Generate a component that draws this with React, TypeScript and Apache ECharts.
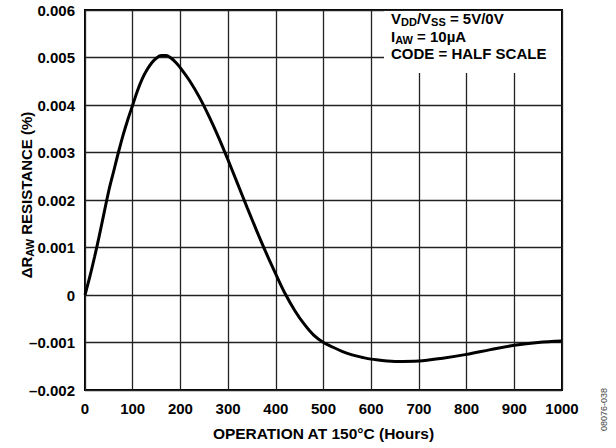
import React, { useEffect, useRef } from "react";
import * as echarts from "echarts";

const hours = [0, 10, 20, 30, 40, 50, 60, 70, 80, 90, 100, 110, 120, 130, 140, 150, 160, 170, 180, 190, 200, 220, 240, 260, 280, 300, 320, 340, 360, 380, 400, 420, 440, 460, 480, 500, 520, 540, 560, 580, 600, 650, 700, 750, 800, 850, 900, 950, 1000];
const deltaR = [0, 0.00038, 0.0008, 0.00125, 0.00173, 0.0022, 0.0026, 0.003, 0.00337, 0.0037, 0.004, 0.0043, 0.00455, 0.00474, 0.00489, 0.00499, 0.00504, 0.00504, 0.00499, 0.0049, 0.00478, 0.0045, 0.00416, 0.00376, 0.00332, 0.00284, 0.00234, 0.00184, 0.00135, 0.00088, 0.00044, 0.00002, -0.00033, -0.00062, -0.00085, -0.001, -0.0011, -0.00119, -0.00126, -0.00131, -0.00135, -0.0014, -0.00139, -0.00133, -0.00125, -0.00115, -0.00106, -0.001, -0.00097];

const xMin = 0, xMax = 1000, xStep = 100;
const yMin = -0.002, yMax = 0.006, yStep = 0.001;

const FONT = "'Liberation Sans', Arial, sans-serif";
const FS = 15;

export default function App() {
  const ref = useRef<HTMLDivElement>(null);
  useEffect(() => {
    const chart = echarts.init(ref.current!, null, { renderer: "svg" });
    const data = hours.map((h, i) => [h, deltaR[i]]);
    const main = { fontSize: FS, fontWeight: "bold", fontFamily: FONT, color: "#000", lineHeight: 16 };
    const sub = { fontSize: 11, fontWeight: "bold", fontFamily: FONT, color: "#000", lineHeight: 10, padding: [8, 0, 0, 0] };
    chart.setOption({
      animation: false,
      backgroundColor: "#fff",
      grid: { left: 85, right: 54, top: 10, bottom: 58, show: true, borderColor: "#000", borderWidth: 2, backgroundColor: "transparent", outerBoundsMode: "none", containLabel: false },
      xAxis: {
        type: "value",
        min: xMin,
        max: xMax,
        interval: xStep,
        axisLine: { show: false },
        axisTick: { show: false },
        splitLine: { show: true, lineStyle: { color: "#222", width: 1.3 } },
        axisLabel: { color: "#000", fontWeight: "bold", fontSize: FS, fontFamily: FONT, margin: 11, formatter: (v: number) => String(v) },
        name: "OPERATION AT 150°C (Hours)",
        nameLocation: "middle",
        nameGap: 35,
        nameMoveOverlap: false,
        nameTextStyle: { color: "#000", fontWeight: "bold", fontSize: 15.5, fontFamily: FONT },
      },
      yAxis: {
        type: "value",
        min: yMin,
        max: yMax,
        interval: yStep,
        axisLine: { show: false },
        axisTick: { show: false },
        splitLine: { show: true, lineStyle: { color: "#222", width: 1.3 } },
        axisLabel: {
          color: "#000",
          fontWeight: "bold",
          fontSize: FS,
          fontFamily: FONT,
          margin: 10,
          formatter: (v: number) => {
            const r = Math.round(v * 1000) / 1000;
            if (r === 0) return "0";
            return r < 0 ? "–" + Math.abs(r).toFixed(3) : r.toFixed(3);
          },
        },
      },
      series: [
        {
          type: "line",
          data,
          smooth: 0.35,
          showSymbol: false,
          lineStyle: { color: "#000", width: 3 },
          z: 5,
        },
      ],
      graphic: [
        { type: "rect", shape: { x: 384, y: 11, width: 177, height: 62 }, style: { fill: "#fff" }, z: 10 },
        {
          type: "text",
          x: 391,
          y: 10,
          z: 11,
          style: { text: "{a|V}{s|DD}{a|/V}{s|SS}{a| = 5V/0V}", rich: { a: main, s: sub } },
        },
        {
          type: "text",
          x: 391,
          y: 28,
          z: 11,
          style: { text: "{a|I}{s|AW}{a| = 10µA}", rich: { a: main, s: sub } },
        },
        {
          type: "text",
          x: 391,
          y: 46,
          z: 11,
          style: { text: "CODE = HALF SCALE", fontSize: FS, fontWeight: "bold", fontFamily: FONT, fill: "#000" },
        },
        {
          type: "text",
          x: 26,
          y: 195,
          rotation: Math.PI / 2,
          z: 11,
          style: { text: "{a|ΔR}{s|AW}{a| RESISTANCE (%)}", rich: { a: main, s: sub }, align: "center", verticalAlign: "middle" },
        },
        {
          type: "text",
          x: 604,
          y: 431,
          rotation: Math.PI / 2,
          z: 11,
          style: { text: "08076-038", fontSize: 9, fontFamily: FONT, fill: "#444", align: "left", verticalAlign: "middle" },
        },
      ],
    });
    return () => chart.dispose();
  }, []);
  return <div ref={ref} style={{ position: "absolute", left: 0, top: 0, width: 616, height: 448 }} />;
}
